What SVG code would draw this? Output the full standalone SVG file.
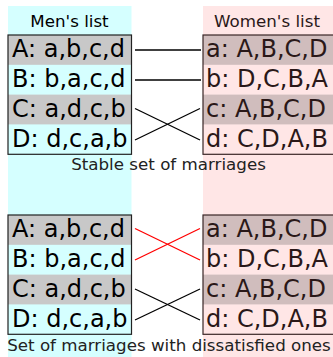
<svg xmlns="http://www.w3.org/2000/svg" width="333" height="357" viewBox="0 0 333 357">
<style>
text{font-family:"DejaVu Sans",sans-serif}
.row{font-size:24px}
.hdr{font-size:16.7px}
.cap{font-size:16.7px;fill:#222;text-anchor:middle}
.m{fill:#000}
.w{fill:#2a1818}
.mg{fill:#c8c8c8}
.wg{fill:#d0bdbd}
.mbox{fill:none;stroke:#222;stroke-width:1.2}
.wbox{fill:none;stroke:#3a2626;stroke-width:1.2}
.ln{stroke:#000;stroke-width:1.3;fill:none}
.red{stroke:#ff0000;stroke-width:1.3;fill:none}
</style>
<rect x="8" y="6" width="123.5" height="351" fill="#d5ffff"/>
<rect x="203" y="6" width="130" height="351" fill="#ffe6e6"/>
<g id="men-header"><text class="hdr m" x="69.5" y="27" text-anchor="middle">Men's list</text></g>
<g id="women-header"><text class="hdr w" x="267" y="27" text-anchor="middle">Women's list</text></g>
<g id="men-top">
<rect class="mg" x="8" y="35" width="123.5" height="29.8"/>
<rect class="mg" x="8" y="94.6" width="123.5" height="29.8"/>
<rect class="mbox" x="8" y="35" width="123.5" height="119.3"/>
<text class="row m" x="12" y="57.3">A: a,b,c,d</text>
<text class="row m" x="12" y="87.1">B: b,a,c,d</text>
<text class="row m" x="12" y="116.9">C: a,d,c,b</text>
<text class="row m" x="12" y="146.7">D: d,c,a,b</text>
</g>
<g id="women-top">
<rect class="wg" x="203" y="35" width="140" height="29.8"/>
<rect class="wg" x="203" y="94.6" width="140" height="29.8"/>
<rect class="wbox" x="203" y="35" width="140" height="119.3"/>
<text class="row w" x="206" y="57.3">a: A,B,C,D</text>
<text class="row w" x="206" y="87.1">b: D,C,B,A</text>
<text class="row w" x="206" y="116.9">c: A,B,C,D</text>
<text class="row w" x="206" y="146.7">d: C,D,A,B</text>
</g>
<g id="caption-top"><text class="cap" x="168.5" y="170">Stable set of marriages</text></g>
<g id="men-bottom">
<rect class="mg" x="8" y="215" width="123.5" height="29.8"/>
<rect class="mg" x="8" y="274.6" width="123.5" height="29.8"/>
<rect class="mbox" x="8" y="215" width="123.5" height="119.3"/>
<text class="row m" x="12" y="237.3">A: a,b,c,d</text>
<text class="row m" x="12" y="267.1">B: b,a,c,d</text>
<text class="row m" x="12" y="296.9">C: a,d,c,b</text>
<text class="row m" x="12" y="326.7">D: d,c,a,b</text>
</g>
<g id="women-bottom">
<rect class="wg" x="203" y="215" width="140" height="29.8"/>
<rect class="wg" x="203" y="274.6" width="140" height="29.8"/>
<rect class="wbox" x="203" y="215" width="140" height="119.3"/>
<text class="row w" x="206" y="237.3">a: A,B,C,D</text>
<text class="row w" x="206" y="267.1">b: D,C,B,A</text>
<text class="row w" x="206" y="296.9">c: A,B,C,D</text>
<text class="row w" x="206" y="326.7">d: C,D,A,B</text>
</g>
<g id="caption-bottom"><text class="cap" x="169" y="351">Set of marriages with dissatisfied ones</text></g>
<g id="connectors">
<line class="ln" x1="135" y1="50" x2="201" y2="50"/>
<line class="ln" x1="135" y1="80" x2="201" y2="80"/>
<line class="ln" x1="135" y1="108.5" x2="200" y2="140"/>
<line class="ln" x1="135" y1="140" x2="200" y2="108.5"/>
<line class="red" x1="135" y1="228.5" x2="200" y2="260"/>
<line class="red" x1="135" y1="260" x2="200" y2="228.5"/>
<line class="ln" x1="135" y1="289" x2="200" y2="320"/>
<line class="ln" x1="135" y1="320" x2="200" y2="289"/>
</g>
</svg>
